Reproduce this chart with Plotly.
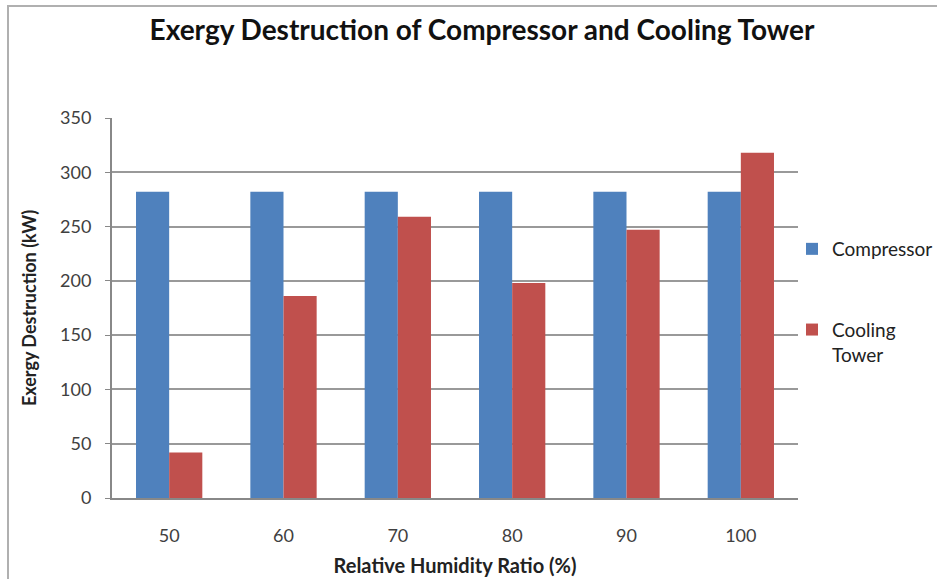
import plotly.graph_objects as go

categories = ["50", "60", "70", "80", "90", "100"]
compressor = [282, 282, 282, 282, 282, 282]
cooling_tower = [42, 186, 259, 198, 247, 318]
y_ticks = [0, 50, 100, 150, 200, 250, 300, 350]

FONT = "Lato"
L, R, T, B = 112, 139, 118, 81
W, H = 937, 579
pw, ph = W - L - R, H - T - B

fig = go.Figure()
fig.add_trace(go.Bar(x=categories, y=compressor, name="Compressor", legendgroup="a",
                     marker=dict(color="#4F81BD", line=dict(width=0))))
fig.add_trace(go.Bar(x=categories, y=cooling_tower, name="Cooling<br>Tower", legendgroup="b",
                     marker=dict(color="#C0504D", line=dict(width=0))))

fig.update_layout(
    width=W, height=H,
    margin=dict(l=L, r=R, t=T, b=B, autoexpand=False),
    paper_bgcolor="white", plot_bgcolor="white",
    barmode="group", bargap=0.42, bargroupgap=0,
    font=dict(family=FONT, size=18, color="#404040"),
    title=dict(text="<b>Exergy Destruction of Compressor and Cooling Tower</b>",
               x=482 / W, xref="container", xanchor="center",
               y=1 - 30 / H, yref="container", yanchor="middle",
               font=dict(family=FONT, size=28, color="#111111")),
    legend=dict(x=(792 - L) / pw, y=1 - (230 - T) / ph, xanchor="left", yanchor="top",
                font=dict(family=FONT, size=19, color="#222222"),
                tracegroupgap=53, itemwidth=30, traceorder="grouped", valign="top",
                bgcolor="rgba(0,0,0,0)"),
    xaxis=dict(type="category", showline=True, linecolor="#888888", linewidth=2,
               ticks="", tickfont=dict(size=18, color="#404040"),
               ticklabelstandoff=20, automargin=False,
               title=dict(text="<b>Relative Humidity Ratio (%)</b>",
                          font=dict(size=20, color="#222222"), standoff=14)),
    yaxis=dict(range=[0, 350], tickvals=y_ticks, showline=True,
               linecolor="#888888", linewidth=2,
               showgrid=True, gridcolor="#999999", gridwidth=1.5,
               ticks="outside", ticklen=5, tickcolor="#888888",
               tickfont=dict(size=18, color="#404040"),
               ticklabelstandoff=10, automargin=False,
               title=dict(text="<b>Exergy Destruction (kW)</b>",
                          font=dict(size=18, color="#222222"), standoff=19)),
)

# outer chart border
fig.add_shape(type="rect", xref="paper", yref="paper",
              x0=(8 - L) / pw, x1=(W + 10 - L) / pw,
              y0=-(B + 10) / ph, y1=1 + (T - 6) / ph,
              line=dict(color="#b0b0b0", width=2), fillcolor="rgba(0,0,0,0)",
              layer="below")

fig.write_html("out.html", config={"displayModeBar": False},
               post_script="document.body.style.margin='0';document.body.style.overflow='hidden';")
